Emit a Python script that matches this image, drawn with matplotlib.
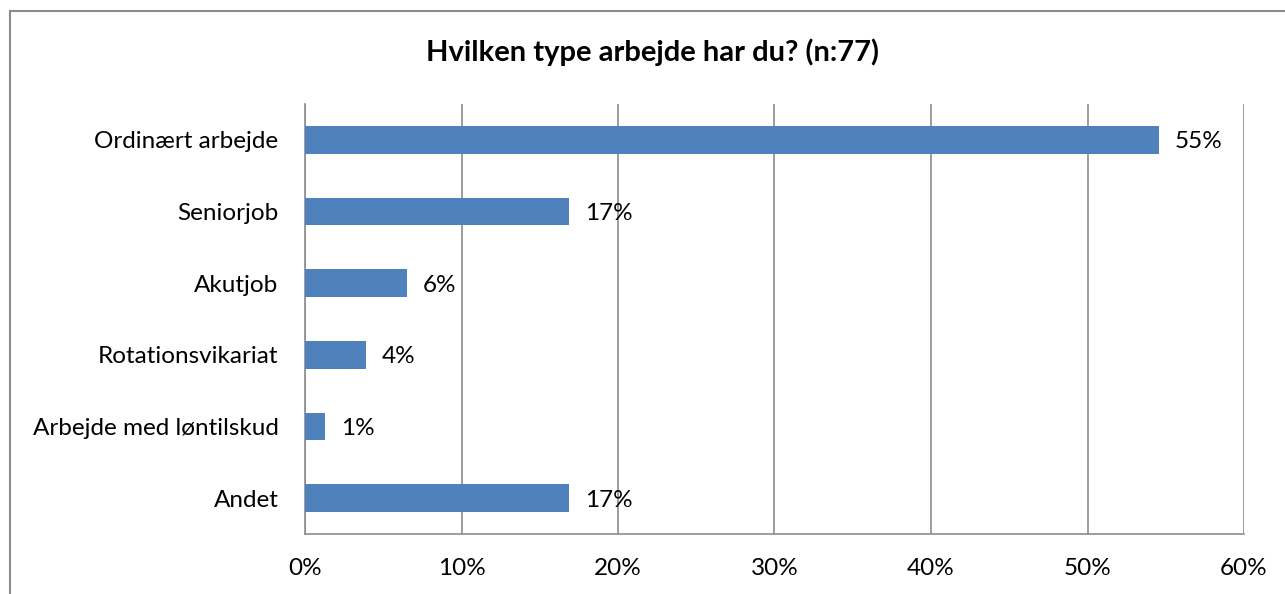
import matplotlib.pyplot as plt
from matplotlib.patches import Rectangle
from matplotlib.ticker import PercentFormatter

categories = ['Ordinært arbejde', 'Seniorjob', 'Akutjob', 'Rotationsvikariat',
              'Arbejde med løntilskud', 'Andet']
counts = [42, 13, 5, 3, 1, 13]
n_total = 77
shares = [c / n_total * 100 for c in counts]
xticks = [0, 10, 20, 30, 40, 50, 60]

plt.rcParams['font.family'] = ['Lato', 'DejaVu Sans']

fig = plt.figure(figsize=(12.85, 5.94), dpi=100)
ax = fig.add_axes([305 / 1285, 1 - 534 / 594, (1244 - 305) / 1285, (534 - 104) / 594])

# outer chart frame (runs off the right and bottom edge)
fig.patches.append(Rectangle((10 / 1285, -0.2), 1.5, 1.2 - 11 / 594,
                             transform=fig.transFigure, fill=False,
                             edgecolor='#8c8c8c', linewidth=1.5))

ypos = list(range(len(categories)))
ax.barh(ypos, shares, height=0.39, color='#4F81BD', zorder=3)
for y, v in zip(ypos, shares):
    ax.text(v + 1.0, y + 0.03, '{:.0f}%'.format(round(v)), va='center', ha='left', fontsize=17.5)

ax.set_ylim(len(categories) - 0.5, -0.5)
ax.set_xlim(0, 60)
ax.set_yticks(ypos)
ax.set_yticklabels(categories, fontsize=17.5)
ax.set_xticks(xticks)
ax.xaxis.set_major_formatter(PercentFormatter(decimals=0))
ax.tick_params(axis='both', length=0, labelsize=17.5, colors='black')
ax.tick_params(axis='x', pad=17)
ax.tick_params(axis='y', pad=19)
ax.grid(axis='x', color='#8c8c8c', linewidth=1.2, zorder=0)
for side in ['top', 'right']:
    ax.spines[side].set_visible(False)
for side in ['left', 'bottom']:
    ax.spines[side].set_color('#8c8c8c')
    ax.spines[side].set_linewidth(1.2)

fig.text(652 / 1285, 1 - 52 / 594, 'Hvilken type arbejde har du? (n:77)',
         ha='center', va='center', fontsize=21, fontweight='bold')

fig.savefig('out.png', dpi=100)
